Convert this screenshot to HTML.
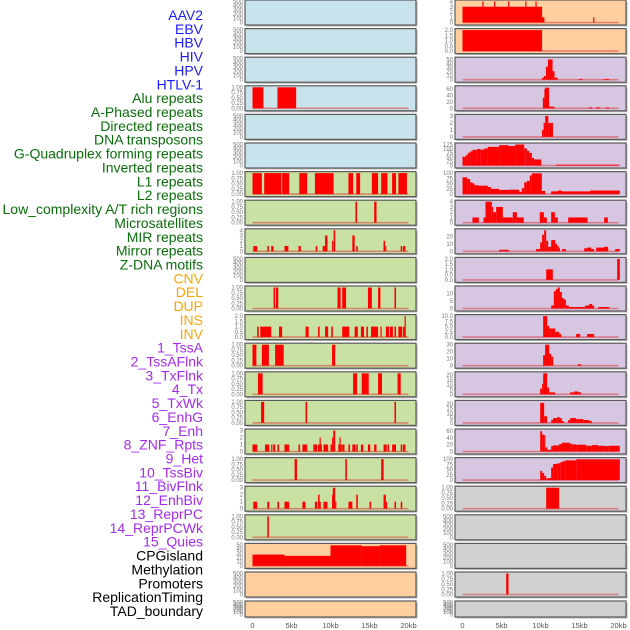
<!DOCTYPE html>
<html><head><meta charset="utf-8">
<style>
html,body{margin:0;padding:0;background:#fff;}
svg{display:block;}
text{font-family:"Liberation Sans",sans-serif;}
</style></head>
<body>
<svg id="chart" width="630" height="630" viewBox="0 0 630 630" xmlns="http://www.w3.org/2000/svg">
<g id="labels"></g>
<g id="panels"></g>
<g id="xaxes"></g>
</svg>
<script>
// ---- data ----
const trackLabels = ["AAV2","EBV","HBV","HIV","HPV","HTLV-1","Alu repeats","A-Phased repeats","Directed repeats","DNA transposons","G-Quadruplex forming repeats","Inverted repeats","L1 repeats","L2 repeats","Low_complexity A/T rich regions","Microsatellites","MIR repeats","Mirror repeats","Z-DNA motifs","CNV","DEL","DUP","INS","INV","1_TssA","2_TssAFlnk","3_TxFlnk","4_Tx","5_TxWk","6_EnhG","7_Enh","8_ZNF_Rpts","9_Het","10_TssBiv","11_BivFlnk","12_EnhBiv","13_ReprPC","14_ReprPCWk","15_Quies","CPGisland","Methylation","Promoters","ReplicationTiming","TAD_boundary"];
const labelGroups = ["virus","virus","virus","virus","virus","virus","repeat","repeat","repeat","repeat","repeat","repeat","repeat","repeat","repeat","repeat","repeat","repeat","repeat","sv","sv","sv","sv","sv","chrom","chrom","chrom","chrom","chrom","chrom","chrom","chrom","chrom","chrom","chrom","chrom","chrom","chrom","chrom","other","other","other","other","other"];
const xTickValues = [0,5,10,15,20];
const xTickLabels = ["0","5kb","10kb","15kb","20kb"];

// segments: [startKb, endKb, value]
const hivBins = [[0,1.4,1],[3.2,5.6,1]];
const aluBins = [[0,1.2,1],[1.5,3.7,1],[3.8,4.7,1],[6.0,7.0,1],[8.0,10.4,1],[12.3,12.9,1],[13.3,13.8,1],[15.3,16.1,1],[16.5,17.3,1],[17.9,18.4,1],[18.7,19.8,1]];
const aPhasedBins = [[13.2,13.4,1],[15.6,15.9,1]];
const directedBins = [[0.1,0.6,1],[1.9,2.1,1],[2.4,2.7,1],[4.1,4.6,1],[5.9,6.2,1],[8.1,8.3,1],[9.0,9.3,1],[9.3,9.6,3],[10.2,10.3,2],[10.4,10.6,4],[12.8,13.1,3],[13.3,13.5,1],[16.8,17.0,2],[17.0,17.1,1],[19.0,19.2,1],[19.3,19.6,1]];
const gQuadBins = [[2.7,2.9,1],[3.0,3.3,1],[10.9,11.3,1],[11.5,12.0,1],[14.8,15.3,1],[16.1,16.4,1],[18.2,18.4,1]];
const invertedBins = [[0.6,0.8,1],[1.0,2.4,1],[3.4,3.8,1],[6.8,7.2,1],[8.4,8.6,1],[9.3,9.7,1],[10.1,10.3,1],[11.5,12.4,1],[13.1,13.5,1],[13.9,14.3,1],[14.6,14.8,1],[15.2,16.1,1],[16.4,16.5,1],[17.1,17.5,1],[17.6,18.0,1],[18.2,18.4,1],[18.7,19.2,1],[19.3,19.5,1],[19.5,19.6,2]];
const l1Bins = [[0,0.5,1],[1.2,2.1,1],[2.9,4.0,1],[10.2,10.6,1]];
const l2Bins = [[0.7,1.3,1],[12.9,13.4,1],[14.0,14.9,1],[16.1,16.6,1],[18.6,19.0,1]];
const lowCompBins = [[1.1,1.5,1],[6.8,7.0,1],[18.2,18.4,1]];
const microBins = [[0,0.6,1],[1.6,2.15,1],[2.4,2.5,1],[2.65,2.9,1],[3.2,3.4,1],[4.1,4.7,1],[5.9,6.1,1],[6.4,7.0,1],[7.8,8.3,1],[8.4,8.6,1],[8.6,8.7,2],[8.7,8.9,1],[9.1,9.7,1],[10.0,10.2,1],[10.2,10.35,2],[10.35,10.6,3],[11.0,11.15,1],[11.15,11.3,2],[11.3,11.4,1],[11.5,11.8,1],[12.3,12.5,1],[12.8,13.2,1],[13.3,13.5,1],[13.9,14.2,1],[14.8,15.1,1],[15.6,15.9,1],[16.8,17.2,1],[17.3,17.5,1],[17.9,18.4,1],[19.0,19.2,1],[19.3,19.6,1]];
const mirBins = [[5.4,5.7,1],[11.9,12.1,1],[16.5,16.8,1]];
const mirrorBins = [[0.1,0.6,1],[1.9,2.15,1],[3.2,3.4,1],[4.1,4.7,1],[6.4,6.8,1],[8.0,8.3,1],[8.4,8.6,2],[8.6,8.7,1],[9.1,9.6,1],[10.2,10.3,2],[10.3,10.6,3],[10.6,10.7,1],[12.3,12.8,1],[13.3,13.5,2],[15.0,15.2,1],[16.8,17.1,2],[17.1,17.2,1],[18.2,18.4,1],[19.0,19.2,1]];
const zdnaBins = [[1.9,2.1,1]];
const cnvBins = [[0,4.1,27],[4.1,10.0,24],[10.0,14.0,49],[14.0,16.3,47],[16.3,19.7,49]];
const insBins = [[0,10.2,3],[2.55,2.7,4],[4.05,4.2,4],[5.85,6.0,4],[8.05,8.2,4],[9.35,9.5,4],[10.2,10.5,1],[16.75,16.9,1]];
const invBins = [[0,10.2,2]];
const tssABins = [[10.2,10.45,5],[10.45,10.7,9],[10.7,10.95,32],[10.95,11.55,50],[11.55,11.8,21],[11.8,12.2,5],[14.9,15.4,2],[18.1,18.8,2]];
const tssAFlnkBins = [[10.3,10.5,33],[10.5,10.6,60],[10.6,11.1,65],[11.1,11.8,5],[16.2,16.6,3],[17.1,17.6,3],[18.4,18.8,3]];
const txFlnkBins = [[10.2,10.4,1],[10.4,10.6,2],[10.6,11.0,3],[11.0,11.6,2]];
const txBins = [[0,0.43,52],[0.43,0.68,62],[0.68,0.98,76],[0.98,1.28,84],[1.28,1.84,93],[1.84,2.26,98],[2.26,2.82,95],[2.82,3.25,102],[3.25,4.7,111],[4.7,5.9,121],[5.9,6.75,116],[6.75,7.91,125],[7.91,8.25,102],[8.25,8.55,87],[8.55,8.89,75],[8.89,9.19,45],[9.19,10.09,36],[11.97,20.17,5]];
const txWkBins = [[0,0.6,80],[0.6,0.98,72],[0.98,1.28,56],[1.28,1.54,51],[1.54,2.05,42],[2.05,3.25,40],[3.25,3.63,34],[3.63,4.7,25],[4.7,5.98,20],[5.98,7.26,21],[7.26,7.61,11],[7.61,7.91,28],[7.91,8.25,56],[8.25,8.63,63],[8.63,8.89,89],[8.89,10.17,99],[10.17,10.6,15],[11.37,12.22,13],[12.22,12.74,17],[12.74,16.37,13],[16.37,20.17,17]];
const enhGBins = [[1.28,2.09,1],[2.69,2.95,1],[2.95,3.76,4],[3.76,3.93,3],[3.93,4.32,2],[4.32,5.17,3],[5.17,6.45,1],[6.45,6.97,2],[6.97,7.86,1],[9.91,10.43,2],[10.43,10.81,1],[11.37,11.84,2],[11.84,12.22,1],[13.55,16.03,1],[18.16,18.63,1]];
const enhBins = [[4.7,5.94,2],[9.44,9.96,3],[9.96,10.21,12],[10.21,10.47,22],[10.47,10.73,28],[10.73,10.98,14],[10.98,11.37,6],[11.37,11.88,15],[11.88,12.14,10],[12.14,12.35,7],[12.35,12.48,4],[12.78,13.25,3],[15.6,15.98,4],[15.98,16.5,5],[16.5,16.88,3],[17.14,18.16,5],[18.16,18.68,6],[19.57,20.17,3]];
const znfBins = [[10.73,11.58,1],[19.83,20.17,2]];
const hetBins = [[11.37,11.71,2],[11.71,11.97,11.5],[11.97,12.22,13],[12.22,12.48,14],[12.48,12.74,11],[12.74,12.99,7],[12.99,13.25,6],[13.25,13.63,2],[13.63,15.73,1],[15.73,16.24,2],[16.24,16.62,3],[16.62,16.88,2],[17.39,18.8,1]];
const tssBivBins = [[10.34,10.85,10],[10.85,11.11,5.4],[11.11,11.37,4.1],[11.37,11.88,4.1],[11.88,12.39,2.5],[12.39,12.65,1.5],[14.57,15.09,1.5],[15.98,16.88,1.5]];
const bivFlnkBins = [[10.34,10.6,15],[10.6,11.11,30],[11.11,11.37,17],[11.37,11.62,13],[14.79,15.21,2]];
const enhBivBins = [[9.96,10.21,6],[10.21,10.34,11],[10.34,10.85,22],[10.85,11.11,7],[11.11,11.88,2],[13.8,14.32,2],[14.32,14.83,3],[14.83,15.21,2]];
const reprPCBins = [[9.96,10.47,21],[10.47,10.85,7],[11.37,11.62,3],[11.62,12.14,5],[12.14,12.48,6],[12.48,12.74,5],[12.74,12.99,2],[13.55,13.8,3],[13.8,14.57,5],[14.57,15.47,4],[15.47,16.24,3],[16.24,16.58,2]];
const reprPCWkBins = [[9.96,10.21,60],[10.21,10.47,50],[10.47,10.6,48],[10.6,10.85,12],[10.85,11.37,5],[11.37,11.62,16],[11.62,12.39,18],[12.39,12.74,22],[12.74,13.76,26],[13.76,14.06,23],[14.06,14.57,21],[14.57,15.85,20],[15.85,16.58,17],[16.58,17.39,19],[17.39,18.16,17],[18.16,18.68,16],[18.68,20.17,17]];
const quiesBins = [[9.96,10.21,44],[10.21,10.47,34],[10.47,10.73,20],[10.73,10.94,7],[10.94,11.37,10],[11.37,11.62,60],[11.62,12.14,77],[12.14,12.52,80],[12.52,12.82,85],[12.82,13.16,90],[13.16,14.57,94],[14.57,20.17,99]];
const cpgBins = [[10.73,12.39,1]];
const replicationBins = [[5.6,5.9,1]];

const T500=[0,100,200,300,400,500], T1=[0,0.25,0.5,0.75,1];
// per panel: data, yMax, ticks, decimals
const panelBins = [null,null,null,hivBins,null,null,aluBins,aPhasedBins,directedBins,null,gQuadBins,invertedBins,l1Bins,l2Bins,lowCompBins,microBins,mirBins,mirrorBins,zdnaBins,cnvBins,null,null,
 insBins,invBins,tssABins,tssAFlnkBins,txFlnkBins,txBins,txWkBins,enhGBins,enhBins,znfBins,hetBins,tssBivBins,bivFlnkBins,enhBivBins,reprPCBins,reprPCWkBins,quiesBins,cpgBins,null,null,replicationBins,null];
const panelYMax = [500,500,500,1,500,500,1,1,4,500,1,2,1,1,1,3,1,3,1,50,500,500,
 4,2,52,66,3,125,100,4,28,2,14,10,30,22,22,62,100,1,500,500,1,500];
const panelTicks = [T500,T500,T500,T1,T500,T500,T1,T1,[0,1,2,3,4],T500,T1,[0,0.5,1,1.5,2],T1,T1,T1,[0,1,2,3],T1,[0,1,2,3],T1,[0,10,20,30,40,50],T500,T500,
 [0,1,2,3,4],[0,0.5,1,1.5,2],[0,10,20,30,40,50],[0,20,40,60],[0,1,2,3],[0,25,50,75,100,125],[0,25,50,75,100],[0,1,2,3,4],[0,10,20],[0,0.5,1,1.5,2],[0,5,10],[0,2.5,5,7.5,10],[0,10,20,30],[0,5,10,15,20],[0,5,10,15,20],[0,20,40,60],[0,25,50,75,100],T1,T500,T500,T1,T500];
const panelDecimals = [0,0,0,2,0,0,2,2,0,0,2,1,2,2,2,0,2,0,2,0,0,0, 0,1,0,0,0,0,0,0,0,1,0,1,0,0,0,0,0,2,0,0,2,0];

// ---- layout ----
const NS="http://www.w3.org/2000/svg";
const bgColors={virus:"#c8e3eb",repeat:"#c9e1a3",sv:"#ffcf9f",chrom:"#d6c6e2",other:"#d1d1d1"};
const labelColors={virus:"#1a1aff",repeat:"#0a6e0a",sv:"#ffa500",chrom:"#a52af0",other:"#000"};
const colLeft=[245,455], panelW=171, dataX0=[252.5,462.5], pxPerKb=7.8;
function rowTop(r){return r<21? r*28.6 : 601;}
function rowH(r){return r<21?25:16;}
function xScale(col,kb){return dataX0[col]+kb*pxPerKb;}
function mk(tag,attrs,parent){const e=document.createElementNS(NS,tag);for(const k in attrs)e.setAttribute(k,attrs[k]);parent.appendChild(e);return e;}

const gl=document.getElementById('labels');
trackLabels.forEach((t,i)=>{
  const e=mk('text',{x:203,y:15+i*13.86+5,'text-anchor':'end','font-size':'14',fill:labelColors[labelGroups[i]]},gl);
  
  
  e.textContent=t;
});

const gp=document.getElementById('panels');
for(let p=0;p<44;p++){
  const col=p<22?0:1, r=p%22, T=rowTop(r), H=rowH(r);
  const x=colLeft[col];
  const g=mk('g',{},gp);
  
  
  mk('rect',{x:x+1.5,y:T+1.5,width:panelW,height:H,fill:'#b5b5b5'},g);
  mk('rect',{x:x,y:T,width:panelW,height:H,fill:bgColors[labelGroups[p]],stroke:'#5a5a5a','stroke-width':1.2},g);
  const y0=T+H-2.5, yTop=T+1.5, ymax=panelYMax[p];
  const yS=v=>y0-(v/ymax)*(y0-yTop);
  panelTicks[p].forEach(tv=>{
    const te=mk('text',{x:x-2,y:yS(tv)+2,'text-anchor':'end','font-size':'6',fill:'#777'},g);
    
    
    te.textContent=tv.toFixed(panelDecimals[p]);
  });
  const bins=panelBins[p];
  if(bins){
    const bl=mk('line',{x1:xScale(col,0),x2:xScale(col,20),y1:y0,y2:y0,stroke:'rgba(220,60,60,0.55)','stroke-width':1.6},g);
    
    
    bins.forEach(b=>{
      const x1=xScale(col,b[0]), x2=xScale(col,b[1]);
      const br=mk('rect',{x:x1,y:yS(b[2]),width:Math.max(x2-x1,1.2),height:y0-yS(b[2]),fill:'#ff0000'},g);
      
      
    });
  }
}

const gx=document.getElementById('xaxes');
[0,1].forEach(col=>{
  xTickValues.forEach((v,i)=>{
    const te=mk('text',{x:xScale(col,v),y:628,'text-anchor':'middle','font-size':'7.5',fill:'#555'},gx);
    
    
    te.textContent=xTickLabels[i];
  });
});
</script>
</body></html>
